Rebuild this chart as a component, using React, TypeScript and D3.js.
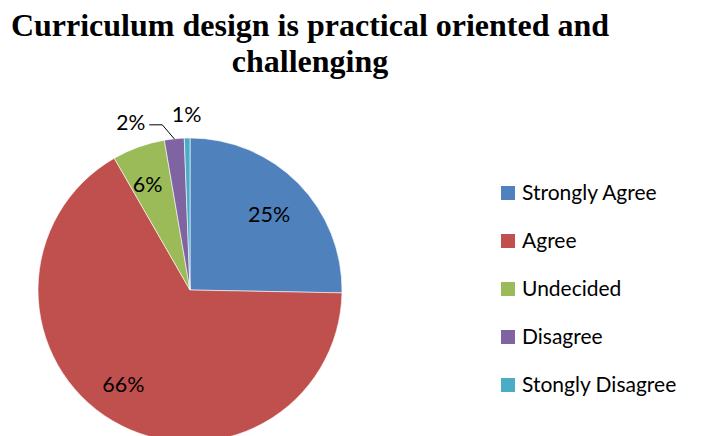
import React from 'react';
import * as d3 from 'd3';

const categories = ['Strongly Agree', 'Agree', 'Undecided', 'Disagree', 'Stongly Disagree'];
const values = [25.3, 66.4, 5.6, 2.1, 0.6];
const colors = ['#4F81BD', '#C0504D', '#9BBB59', '#8064A2', '#4BACC6'];
const titleLines = ['Curriculum design is practical oriented and', 'challenging'];

const W = 706;
const H = 436;
const cx = 190;
const cy = 290;
const R = 152;

const App: React.FC = () => {
  const slices = d3
    .pie<number>()
    .sort(null)
    .value((d) => d)(values);

  const arc = d3.arc<d3.PieArcDatum<number>>().innerRadius(0).outerRadius(R);
  const labelFont = 'Lato, "Open Sans", sans-serif';

  const legendY = d3.scalePoint<string>().domain(categories).range([193, 385]);

  // label radius as a fraction of R, and a small angle nudge (radians) per slice
  const labelR = [0.73, 0.75, 0.76, 1, 1.17];
  const labelNudge = [0, 0.09, -0.03, 0, 0];

  return (
    <svg width={W} height={H} style={{ position: 'absolute', left: 0, top: 0 }}>
      <rect width={W} height={H} fill="#fff" />
      {titleLines.map((t, i) => (
        <text
          key={t}
          x={310}
          y={36 + i * 36}
          textAnchor="middle"
          fontFamily='"Liberation Serif", "Times New Roman", serif'
          fontWeight="bold"
          fontSize={32}
        >
          {t}
        </text>
      ))}
      <g transform={`translate(${cx},${cy})`}>
        {slices.map((s, i) => (
          <path key={i} d={arc(s) ?? ''} fill={colors[i]} stroke="#fff" strokeWidth={0.6} />
        ))}
        {slices.map((s, i) => {
          const mid = (s.startAngle + s.endAngle) / 2 + labelNudge[i];
          const pct = `${Math.round(s.value)}%`;
          if (i === 3) {
            const ax = Math.sin(mid) * R;
            const ay = -Math.cos(mid) * R;
            const ex = ax - 12;
            const ey = ay - 14;
            const hx = ex - 13;
            return (
              <g key={i}>
                <polyline
                  points={`${ax},${ay} ${ex},${ey} ${hx},${ey}`}
                  fill="none"
                  stroke="#000"
                  strokeWidth={1}
                />
                <text
                  x={hx - 4}
                  y={ey - 2}
                  dy="0.35em"
                  textAnchor="end"
                  fontFamily={labelFont}
                  fontSize={21}
                >
                  {pct}
                </text>
              </g>
            );
          }
          const r = labelR[i] * R;
          return (
            <text
              key={i}
              x={Math.sin(mid) * r}
              y={-Math.cos(mid) * r + 2}
              dy="0.35em"
              textAnchor="middle"
              fontFamily={labelFont}
              fontSize={21.5}
            >
              {pct}
            </text>
          );
        })}
      </g>
      {categories.map((c, i) => (
        <g key={c} transform={`translate(501,${legendY(c)})`}>
          <rect x={0} y={-7} width={14} height={14} fill={colors[i]} />
          <text x={21} y={0} dy="0.35em" fontFamily={labelFont} fontSize={21}>
            {c}
          </text>
        </g>
      ))}
    </svg>
  );
};

export default App;
